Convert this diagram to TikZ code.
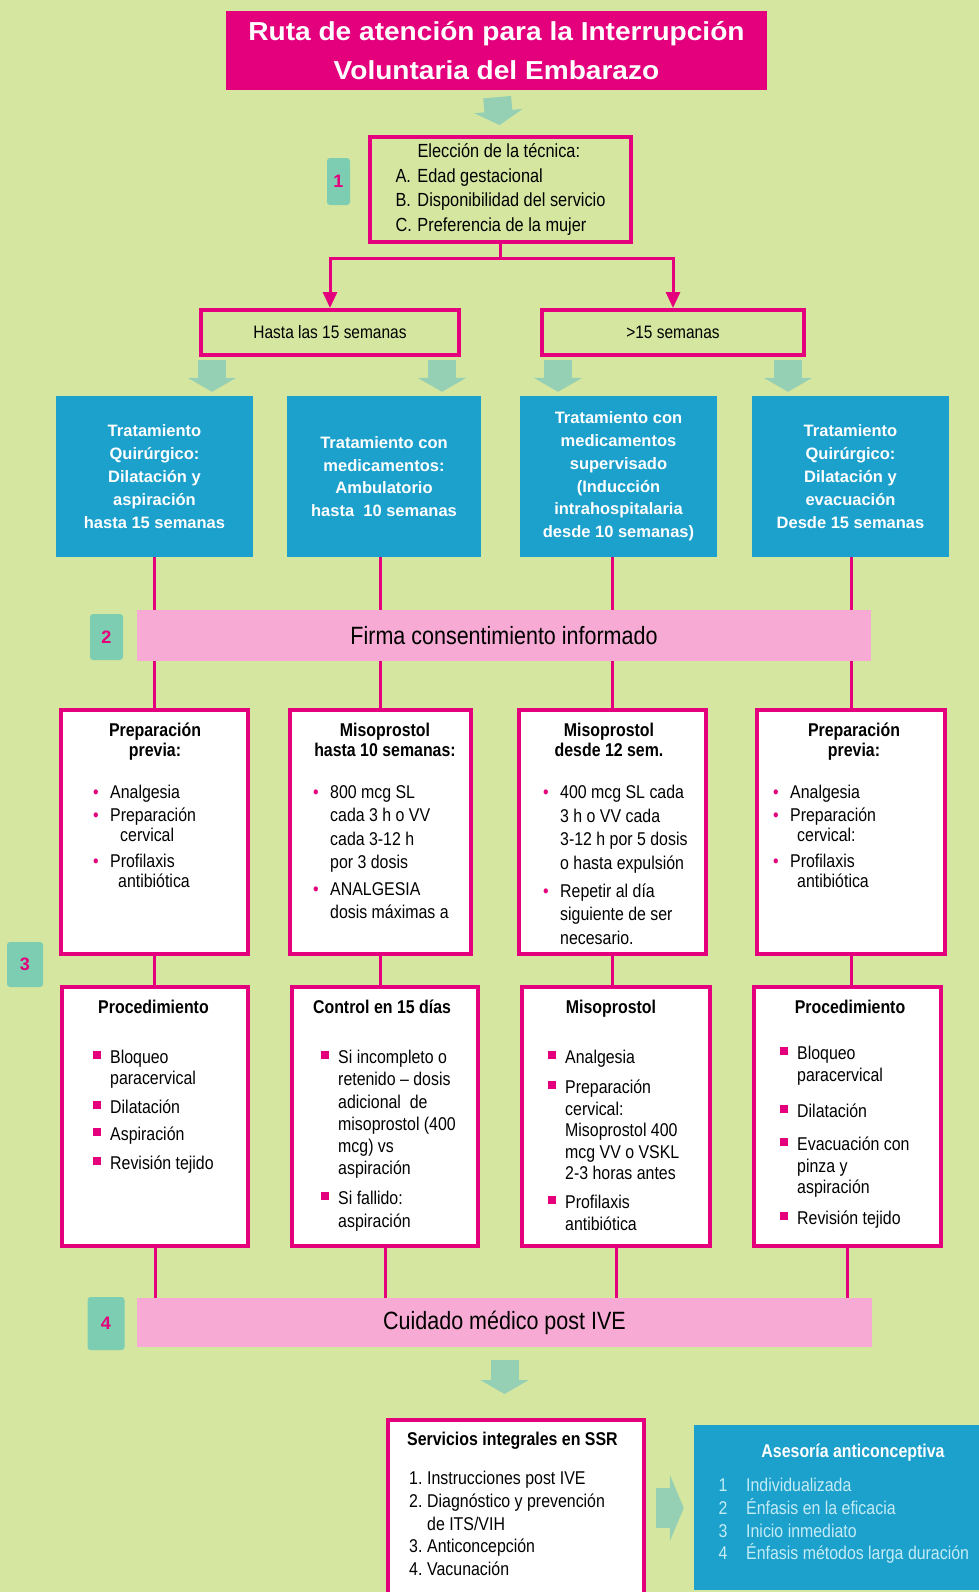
\documentclass[tikz,border=0pt]{standalone}
\usepackage{fontspec}
\setmainfont{Liberation Sans}
\newfontfamily\narrowfont[FakeStretch=0.86]{Liberation Sans}
\newfontfamily\headfont[FakeStretch=1.08]{Liberation Sans}
\usetikzlibrary{shapes,arrows,arrows.meta}
\usetikzlibrary{calc,positioning}

\definecolor{ivebg}{RGB}{213,230,160}
\definecolor{ivemag}{RGB}{228,0,124}
\definecolor{iveblue}{RGB}{28,160,204}
\definecolor{ivepink}{RGB}{246,170,212}
\definecolor{iveteal}{RGB}{125,205,178}
\definecolor{ivefade}{RGB}{150,208,180}
\definecolor{ivecyan}{RGB}{196,236,246}

\newcommand\DOTB{\makebox[17pt][l]{\textcolor{ivemag}{\textbullet}}}
\newcommand\SQB{\makebox[17pt][l]{\textcolor{ivemag}{\raisebox{5pt}{\rule{8pt}{8pt}}}}}
\newcommand\IND{\hspace*{17pt}}
\newcommand\NUM[1]{\makebox[18pt][l]{#1}}
\newcommand\IVEBADGE[5] {
    % Numbered step badge.
    \node[badge, minimum width=#3pt, minimum height=#4pt] (#1) at #2 {#5};
}

\begin{document}
\begin{tikzpicture}[x=1pt, y=-1pt, every node/.style={inner sep=0pt},
    magbox/.style={draw=ivemag, line width=4pt},
    whitebox/.style={magbox, fill=white},
    bluebox/.style={fill=iveblue, text=white, align=center, font=\bfseries\fontsize{16.5}{22.8}\selectfont},
    band/.style={fill=ivepink, font=\narrowfont\fontsize{25}{25}\selectfont},
    badge/.style={fill=iveteal, rounded corners=3pt, text=ivemag, font=\bfseries\fontsize{18}{18}\selectfont},
    listtext/.style={anchor=north west, align=left, font=\narrowfont\fontsize{18.5}{#1}\selectfont},
    headtext/.style={anchor=north, align=center, font=\narrowfont\bfseries\fontsize{18.5}{20}\selectfont},
    magline/.style={ivemag, line width=3pt},
    fatarrow/.style={ivefade, line width=28pt, -{Triangle[width=48pt,length=14pt]}}
    ]
    % Page and background.
    \useasboundingbox (0,0) rectangle (979,1592);
    \clip (0,0) rectangle (979,1592);
    \fill[ivebg] (0,0) rectangle (979,1592);

    % Title.
    \node[fill=ivemag, text=white, align=center, minimum width=541pt, minimum height=79pt,
        font=\headfont\bfseries\fontsize{26}{39.5}\selectfont] (t) at (496.5,50.5)
        {Ruta de atención para la Interrupción\\Voluntaria del Embarazo};

    % Step 1: choice of technique.
    \node[magbox, minimum width=261pt, minimum height=105pt, align=left,
        font=\narrowfont\fontsize{19}{24.4}\selectfont] (e) at (500.5,189.5)
        {\hspace*{22pt}Elección de la técnica:\\
         \makebox[22pt][l]{A.}Edad gestacional\\
         \makebox[22pt][l]{B.}Disponibilidad del servicio\\
         \makebox[22pt][l]{C.}Preferencia de la mujer};
    \IVEBADGE{n1}{(338.5,181.5)}{23}{47}{1}
    \draw[fatarrow, shorten <=7pt, shorten >=10pt] (t.south) -- (e.north);

    % Split by gestational age.
    \node[magbox, minimum width=258pt, minimum height=45pt,
        font=\narrowfont\fontsize{18}{18}\selectfont] (h1) at (330,332.5) {Hasta las 15 semanas};
    \node[magbox, minimum width=262pt, minimum height=45pt,
        font=\narrowfont\fontsize{18}{18}\selectfont] (h2) at (673,332.5) {>15 semanas};
    \draw[magline, -{Triangle[width=14pt,length=16pt]}] (e.south) -- ++(0,14) -| (h1.north);
    \draw[magline, -{Triangle[width=14pt,length=16pt]}] (e.south) -- ++(0,14) -| (h2.north);

    % Treatments.
    \node[bluebox, minimum width=197pt, minimum height=161pt] (b1) at (154.5,476.5)
        {Tratamiento\\Quirúrgico:\\Dilatación y\\aspiración\\hasta 15 semanas};
    \node[bluebox, minimum width=194pt, minimum height=161pt] (b2) at (384,476.5)
        {Tratamiento con\\medicamentos:\\Ambulatorio\\hasta\ \ 10 semanas};
    \node[bluebox, minimum width=197pt, minimum height=161pt] (b3) at (618.5,476.5)
        {Tratamiento con\\medicamentos\\supervisado\\(Inducción\\intrahospitalaria\\desde 10 semanas)};
    \node[bluebox, minimum width=197pt, minimum height=161pt] (b4) at (850.5,476.5)
        {Tratamiento\\Quirúrgico:\\Dilatación y\\evacuación\\Desde 15 semanas};
    \coordinate (f2) at (212,360);
    \coordinate (f3) at (442,360);
    \coordinate (f4) at (558,360);
    \coordinate (f5) at (788,360);
    \draw[fatarrow, shorten >=4pt] (f2) -- (f2 |- b1.north);
    \draw[fatarrow, shorten >=4pt] (f3) -- (f3 |- b2.north);
    \draw[fatarrow, shorten >=4pt] (f4) -- (f4 |- b3.north);
    \draw[fatarrow, shorten >=4pt] (f5) -- (f5 |- b4.north);

    % Step 3: two rows of boxes.
    \foreach \i/\x/\w in {1/154.5/187,2/380.5/181,3/612.5/187,4/851/188}
        \node[whitebox, minimum width=\w pt, minimum height=244pt] (r\i) at (\x,832) {};
    \foreach \i/\x/\w in {1/155/186,2/385/186,3/616/188,4/847.5/187}
        \node[whitebox, minimum width=\w pt, minimum height=259pt] (q\i) at (\x,1116.5) {};

    \node[headtext] (rt1) at (155,723) {Preparación\\previa:};
    \node[headtext] (rt2) at (385,723) {Misoprostol\\hasta 10 semanas:};
    \node[headtext] (rt3) at (609,723) {Misoprostol\\desde 12 sem.};
    \node[headtext] (rt4) at (854,723) {Preparación\\previa:};
    \node[listtext=20] (l1) at (93,785)
        {\DOTB Analgesia\\[3pt] \DOTB Preparación\\ \hspace*{27pt}cervical\\[6pt]
         \DOTB Profilaxis\\ \hspace*{25pt}antibiótica};
    \node[listtext=23.5] (l2) at (313,785)
        {\DOTB 800 mcg SL\\ \IND cada 3 h o VV\\ \IND cada 3-12 h\\ \IND por 3 dosis\\[3pt]
         \DOTB ANALGESIA\\ \IND dosis máximas a};
    \node[listtext=23.5] (l3) at (543,785)
        {\DOTB 400 mcg SL cada\\ \IND 3 h o VV cada\\ \IND 3-12 h por 5 dosis\\ \IND o hasta expulsión\\[4.5pt]
         \DOTB Repetir al día\\ \IND siguiente de ser\\ \IND necesario.};
    \node[listtext=20] (l4) at (773,785)
        {\DOTB Analgesia\\[3pt] \DOTB Preparación\\ \hspace*{24pt}cervical:\\[6pt]
         \DOTB Profilaxis\\ \hspace*{24pt}antibiótica};

    \node[headtext] (qt1) at (153.5,1000) {Procedimiento};
    \node[headtext] (qt2) at (382,1000) {Control en 15 días};
    \node[headtext] (qt3) at (611,1000) {Misoprostol};
    \node[headtext] (qt4) at (850,1000) {Procedimiento};
    \node[listtext=21] (m1) at (93,1050)
        {\SQB Bloqueo\\ \IND paracervical\\[8pt] \SQB Dilatación\\[6pt]
         \SQB Aspiración\\[8pt] \SQB Revisión tejido};
    \node[listtext=22.2] (m2) at (321,1050)
        {\SQB Si incompleto o\\ \IND retenido – dosis\\ \IND adicional\ \ de\\ \IND misoprostol (400\\
         \IND mcg) vs\\ \IND aspiración\\[8pt] \SQB Si fallido:\\ \IND aspiración};
    \node[listtext=21.5] (m3) at (548,1050)
        {\SQB Analgesia\\[8.5pt] \SQB Preparación\\ \IND cervical:\\ \IND Misoprostol 400\\
         \IND mcg VV o VSKL\\ \IND 2-3 horas antes\\[7.5pt] \SQB Profilaxis\\ \IND antibiótica};
    \node[listtext=21.5] (m4) at (780,1046)
        {\SQB Bloqueo\\ \IND paracervical\\[15pt] \SQB Dilatación\\[11.5pt]
         \SQB Evacuación con\\ \IND pinza y\\ \IND aspiración\\[9.5pt] \SQB Revisión tejido};
    \IVEBADGE{n3}{(25,964.5)}{36}{45}{3}

    % Step 4 band, connecting lines and step 2 band.
    \node[band, minimum width=735pt, minimum height=49pt] (c2) at (504.5,1322.5) {Cuidado médico post IVE};
    \foreach \i in {1,...,4}
    {
        \draw[magline] (b\i.south -| r\i.north) -- (r\i.north);
        \draw[magline] (r\i.south) -- (r\i.south |- q\i.north);
        \draw[magline] (q\i.south) -- (q\i.south |- c2.north);
    }
    \node[band, minimum width=734pt, minimum height=51pt] (c1) at (504,635.5) {Firma consentimiento informado};
    \IVEBADGE{n2}{(106.5,637)}{33}{46}{2}
    \IVEBADGE{n4}{(106,1323.5)}{37}{53}{4}

    % Post IVE services.
    \node[whitebox, minimum width=256pt, minimum height=200pt] (s) at (516,1520) {};
    \node[anchor=north west, font=\narrowfont\bfseries\fontsize{18.5}{20}\selectfont] (st) at (407,1432)
        {Servicios integrales en SSR};
    \node[listtext=22.7] (sl) at (409,1471)
        {\NUM{1.}Instrucciones post IVE\\ \NUM{2.}Diagnóstico y prevención\\ \hspace*{18pt}de ITS/VIH\\
         \NUM{3.}Anticoncepción\\ \NUM{4.}Vacunación};
    \node[fill=iveblue, minimum width=296pt, minimum height=165pt] (a) at (842,1507.5) {};
    \node[headtext, text=white] (at) at (853,1444) {Asesoría anticonceptiva};
    \node[listtext=22.7, text=ivecyan] (al) at (718.5,1478)
        {\makebox[27.5pt][l]{1}Individualizada\\ \makebox[27.5pt][l]{2}Énfasis en la eficacia\\
         \makebox[27.5pt][l]{3}Inicio inmediato\\ \makebox[27.5pt][l]{4}Énfasis métodos larga duración};
    \draw[fatarrow, shorten <=13pt, shorten >=24pt] (c2.south) -- (c2.south |- s.north);
    \coordinate (f6) at (656,1508);
    \draw[fatarrow, line width=40pt, -{Triangle[width=66pt,length=14pt]}, shorten >=10pt] (f6) -- (f6 -| a.west);
\end{tikzpicture}
\end{document}
